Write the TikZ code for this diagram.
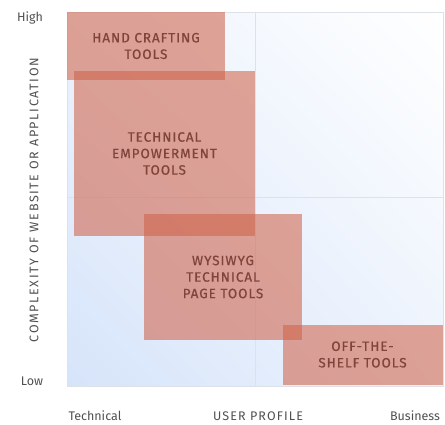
\documentclass[tikz,border=0pt]{standalone}
\usepackage{fontspec}
\setmainfont{Fira Sans}
\newfontfamily\labfont[LetterSpace=7,FakeBold=0.6]{Fira Sans}
\newfontfamily\axfont[LetterSpace=9]{Fira Sans}
\newfontfamily\vfont[LetterSpace=13]{Fira Sans}
\usetikzlibrary{shadings}
\definecolor{boxfill}{RGB}{208,100,76}
\definecolor{boxtext}{RGB}{128,68,58}
\definecolor{axtext}{RGB}{80,80,80}
\definecolor{gridc}{RGB}{222,226,232}
\definecolor{bgblue}{RGB}{214,228,250}
\tikzset{
  toolbox/.style={fill=boxfill, fill opacity=0.58, text opacity=1, text=boxtext,
    inner sep=0pt, align=center, font=\labfont\fontsize{13.5}{16.5}\selectfont},
  axlabel/.style={text=axtext, inner sep=0pt, font=\fontsize{12.5}{14}\selectfont},
  axtitle/.style={text=axtext, inner sep=0pt, font=\axfont\fontsize{12.5}{14}\selectfont},
}
\begin{document}
\begin{tikzpicture}[x=1pt,y=-1pt]
\useasboundingbox (0,0) rectangle (445,424);
% plot area
\shade[lower left=bgblue, upper right=white, upper left=bgblue!45!white, lower right=bgblue!45!white] (67,386) rectangle (443,12);
\draw[gridc, line width=0.8pt] (67,12) rectangle (443,386);
\draw[gridc, line width=0.8pt] (255,12) -- (255,386);
\draw[gridc, line width=0.8pt] (67,197) -- (443,197);
% tool boxes
\node[toolbox, minimum width=158pt, minimum height=68pt] (hc) at (146,46) {HAND CRAFTING\\TOOLS};
\node[toolbox, minimum width=181pt, minimum height=165pt] (te) at (164.5,153.5) {TECHNICAL\\EMPOWERMENT\\TOOLS};
\node[toolbox, minimum width=158pt, minimum height=126pt] (wy) at (223,277) {WYSIWYG\\TECHNICAL\\PAGE TOOLS};
\node[toolbox, minimum width=160pt, minimum height=60pt] (ots) at (362.5,354.5) {OFF-THE-\\SHELF TOOLS};
% axis labels
\node[axlabel] (high) at (30,18) {High};
\node[axlabel] (low) at (32,381) {Low};
\node[axlabel] (tech) at (95,416) {Technical};
\node[axlabel] (bus) at (415,416) {Business};
\node[axtitle] (up) at (258,416) {USER PROFILE};
\node[axtitle, font=\vfont\fontsize{12.5}{14}\selectfont, rotate=90] (cx) at (34,200) {COMPLEXITY OF WEBSITE OR APPLICATION};
\end{tikzpicture}
\end{document}
